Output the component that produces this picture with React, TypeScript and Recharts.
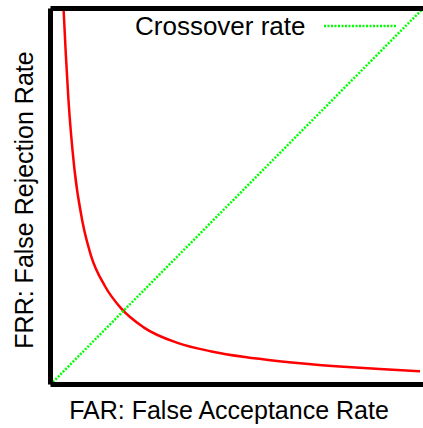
import React from 'react';
import { LineChart, Line, XAxis, YAxis } from 'recharts';

const farValues = [0.035, 0.041, 0.048, 0.064, 0.086, 0.108, 0.146, 0.189, 0.25, 0.343, 0.432, 0.522, 0.614, 0.776, 0.884, 0.992];
const frrValues = [1.0, 0.88, 0.76, 0.575, 0.432, 0.345, 0.262, 0.203, 0.152, 0.11, 0.088, 0.073, 0.062, 0.048, 0.041, 0.035];

const crossoverFar = [0, 1];
const crossoverFrr = [0, 1];

const xLabel = 'FAR: False Acceptance Rate';
const yLabel = 'FRR: False Rejection Rate';
const legendLabel = 'Crossover rate';

const curveData = farValues.map((far, i) => ({ far, frr: frrValues[i] }));
const crossoverData = crossoverFar.map((far, i) => ({ far, frr: crossoverFrr[i] }));

const FONT = 'Liberation Sans, Arial, sans-serif';
const GREEN = '#00ff00';

export default function App() {
    return (
        <div style={{ position: 'absolute', left: 0, top: 0, width: 423, height: 428, background: '#fff' }}>
            <LineChart width={423} height={428} margin={{ top: 7.5, right: 0, bottom: 42.5, left: 49.5 }}>
                <XAxis
                    type="number"
                    dataKey="far"
                    domain={[0, 1]}
                    height={1}
                    tick={false}
                    tickLine={false}
                    axisLine={{ stroke: '#000', strokeWidth: 5 }}
                    label={{
                        content: () => (
                            <text x={229} y={419} textAnchor="middle" fontFamily={FONT} fontSize={25} fill="#000">{xLabel}</text>
                        )
                    }}
                />
                <YAxis
                    type="number"
                    dataKey="frr"
                    domain={[0, 1]}
                    width={1}
                    tick={false}
                    tickLine={false}
                    axisLine={{ stroke: '#000', strokeWidth: 5 }}
                    label={{
                        content: () => (
                            <text x={33} y={200} textAnchor="middle" transform="rotate(-90 33 200)" fontFamily={FONT} fontSize={25} fill="#000">{yLabel}</text>
                        )
                    }}
                />
                <XAxis
                    xAxisId="top"
                    orientation="top"
                    type="number"
                    domain={[0, 1]}
                    height={1}
                    tick={false}
                    tickLine={false}
                    axisLine={{ stroke: '#000', strokeWidth: 5 }}
                />
                <Line
                    data={curveData}
                    dataKey="frr"
                    type="monotone"
                    stroke="#ff0000"
                    strokeWidth={2.5}
                    dot={false}
                    legendType="none"
                    isAnimationActive={false}
                />
                <Line
                    data={crossoverData}
                    dataKey="frr"
                    name={legendLabel}
                    type="linear"
                    stroke={GREEN}
                    strokeWidth={2.5}
                    strokeDasharray="2 1.5"
                    dot={false}
                    isAnimationActive={false}
                />
            </LineChart>

            {/* legend drawn over the plot so it takes no room from it */}
            <div style={{ position: 'absolute', top: 13, left: 135, display: 'flex', alignItems: 'center', fontFamily: FONT, fontSize: 26, lineHeight: '26px', color: '#000' }}>
                <span>{legendLabel}</span>
                <svg width={72} height={6} style={{ marginLeft: 18 }}>
                    <line x1={0} y1={3} x2={72} y2={3} stroke={GREEN} strokeWidth={2.5} strokeDasharray="2 1.5" />
                </svg>
            </div>
        </div>
    );
}
